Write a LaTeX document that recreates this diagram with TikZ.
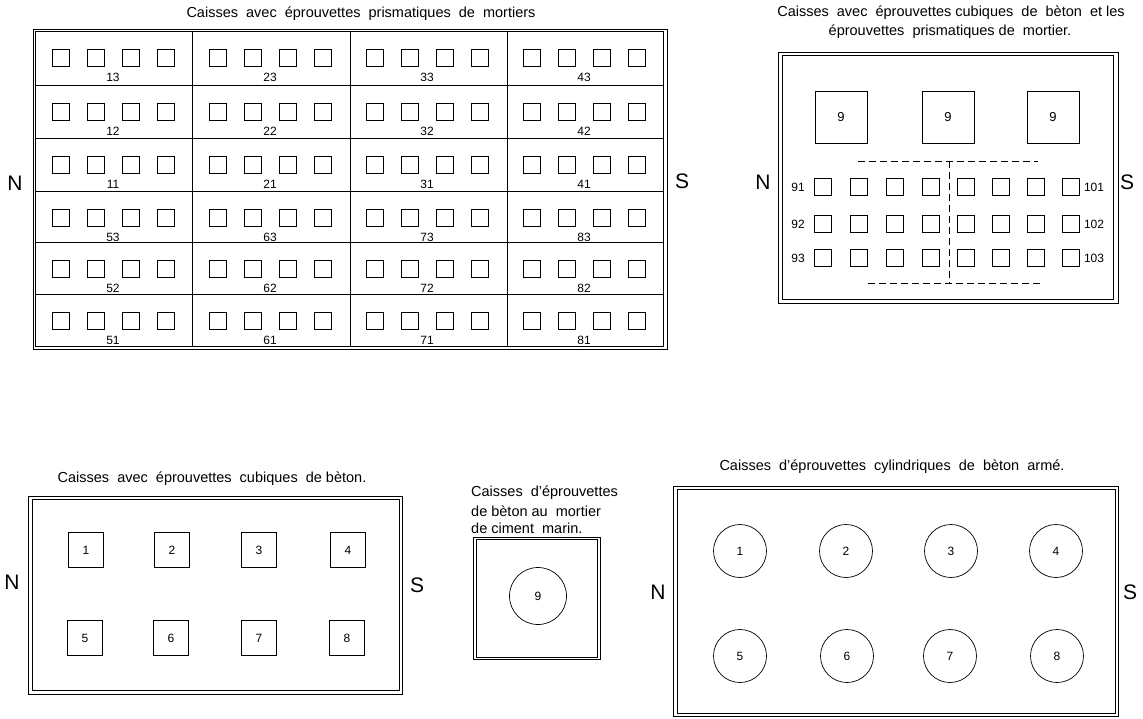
\documentclass[tikz,border=0pt]{standalone}
\usepackage{fontspec}
\setmainfont{Liberation Sans}
\begin{document}
\begin{tikzpicture}[x=1pt,y=-1pt,
  frame/.style={draw, line width=0.9pt},
  divline/.style={draw, line width=0.6pt},
  smallsq/.style={draw, line width=0.7pt, minimum size=17pt, inner sep=0pt},
  bigsq/.style={draw, line width=0.7pt, minimum size=52pt, inner sep=0pt, font=\fontsize{13}{15}\selectfont},
  cubesq/.style={draw, line width=0.7pt, minimum size=35pt, inner sep=0pt, font=\fontsize{12}{14}\selectfont},
  cyl/.style={draw, circle, line width=0.7pt, minimum size=53pt, inner sep=0pt, font=\fontsize{12}{14}\selectfont},
  numlab/.style={inner sep=0pt, font=\fontsize{12}{14}\selectfont},
  title/.style={inner sep=0pt, font=\fontsize{14.5}{17}\selectfont},
  dir/.style={inner sep=0pt, font=\fontsize{21}{24}\selectfont},
  dashline/.style={draw, line width=0.6pt, dash pattern=on 7pt off 4pt}
]
\useasboundingbox[fill=white] (0,0) rectangle (1143,718);

% ---------------- Top-left: prismatic mortar specimens ----------------
\node[title] (t1) at (361,14) {Caisses\ \ avec\ \ éprouvettes\ \ prismatiques\ \ de\ \ mortiers};
\draw[frame] (33,29) rectangle (667,349);
\draw[frame] (35,31) rectangle (663,346);
\foreach \yy in {85,138,191,242,294} \draw[divline] (35,\yy) -- (663,\yy);
\foreach \xx in {192,350,507} \draw[divline] (\xx,31) -- (\xx,346);
\foreach \r/\top in {0/31,1/85,2/138,3/191,4/242,5/294} {
  \foreach \c in {0,1,2,3} {
    \pgfmathsetmacro\xo{35+157*\c}
    \pgfmathtruncatemacro\lab{(\c+1+4*(\r>2))*10+3-mod(\r,3)}
    \foreach \k in {0,1,2,3} {
      \node[smallsq] (g-\r-\c-\k) at ({\xo+25.5+35*\k},{\top+27}) {};
    }
    \node[numlab] (gl-\r-\c) at ({\xo+78},{\top+46}) {\lab};
  }
}
\node[dir] (n1) at (15,183) {N};
\node[dir] (s1) at (682,181) {S};

% ---------------- Top-right: cubic concrete + prismatic mortar ----------------
\node[title] (t2a) at (951,13) {Caisses\ \ avec\ \ éprouvettes cubiques\ \ de\ \ bèton\ \ et\ les};
\node[title] (t2b) at (950,32) {éprouvettes\ \ prismatiques de\ \ mortier.};
\draw[frame] (778,52) rectangle (1118,303);
\draw[frame] (782,55) rectangle (1113,299);
\foreach \i/\xx in {1/841,2/948,3/1053} \node[bigsq] (b9-\i) at (\xx,117) {9};
\foreach \j/\yy/\la/\lb in {1/187/91/101,2/224/92/102,3/258/93/103} {
  \foreach \k/\xx in {1/823,2/859,3/895,4/931,5/966,6/1001,7/1036,8/1071} {
    \node[smallsq] (p-\j-\k) at (\xx,\yy) {};
  }
  \node[numlab] (pl-\j) at (798,\yy) {\la};
  \node[numlab] (pr-\j) at (1094,\yy) {\lb};
}
\coordinate (d1a) at (858,161); \coordinate (d1b) at (1038,161);
\coordinate (d2a) at (949,161); \coordinate (d2b) at (949,283);
\coordinate (d3a) at (868,283); \coordinate (d3b) at (1040,283);
\draw[dashline] (d1a) -- (d1b);
\draw[dashline] (d2a) -- (d2b);
\draw[dashline] (d3a) -- (d3b);
\node[dir] (n2) at (763,182) {N};
\node[dir] (s2) at (1127,182) {S};

% ---------------- Bottom-left: cubic concrete specimens ----------------
\node[title] (t3) at (212,479) {Caisses\ \ avec\ \ éprouvettes\ \ cubiques\ \ de bèton.};
\draw[frame] (28,496) rectangle (402,694);
\draw[frame] (32,499) rectangle (399,690);
\foreach \i/\xx/\yy in {1/86/550,2/172/550,3/259/550,4/348/550,5/85/638,6/171/638,7/259/638,8/347/638}
  \node[cubesq] (c-\i) at (\xx,\yy) {\i};
\node[dir] (n3) at (12,582) {N};
\node[dir] (s3) at (417,585) {S};

% ---------------- Middle: marine cement ----------------
\node[title, anchor=west] (t4a) at (471,493) {Caisses\ \ d'éprouvettes};
\node[title, anchor=west] (t4b) at (471,511) {de bèton au\ \ mortier};
\node[title, anchor=west] (t4c) at (471,528) {de ciment\ \ marin.};
\draw[frame] (473,537) rectangle (600,659);
\draw[frame] (476,539) rectangle (597,657);
\node[cyl, minimum size=57pt] (m9) at (538,596) {9};

% ---------------- Bottom-right: reinforced concrete cylinders ----------------
\node[title] (t5) at (892,467) {Caisses\ \ d'éprouvettes\ \ cylindriques\ \ de\ \ bèton\ \ armé.};
\draw[frame] (673,486) rectangle (1118,716);
\draw[frame] (677,489) rectangle (1115,713);
\foreach \i/\xx/\yy in {1/740/551,2/846/551,3/951/551,4/1056/551,5/740/656,6/847/656,7/950/656,8/1057/656}
  \node[cyl] (z-\i) at (\xx,\yy) {\i};
\node[dir] (n4) at (658,592) {N};
\node[dir] (s4) at (1130,592) {S};
\end{tikzpicture}
\end{document}
